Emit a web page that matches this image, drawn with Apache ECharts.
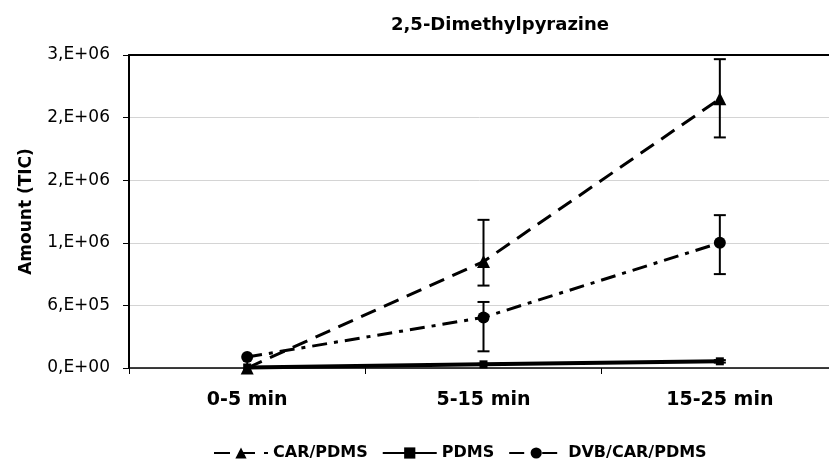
<!DOCTYPE html>
<html>
<head>
<meta charset="utf-8">
<script src="https://cdn.jsdelivr.net/npm/echarts@6/dist/echarts.min.js"></script>
<style>
  html, body { margin: 0; padding: 0; background: #fff; }
  #graph { width: 829px; height: 466px; }
</style>
</head>
<body>
<div id="graph"></div>
<script>
// categories and values
var categories = ['0-5 min', '5-15 min', '15-25 min'];

var carPdms = [0, 1.02e6, 2.58e6];
var carPdmsLow = [0, 0.79e6, 2.21e6];
var carPdmsHigh = [0, 1.42e6, 2.96e6];

var pdms = [0.005e6, 0.035e6, 0.064e6];
var pdmsLow = [0.005e6, 0.03e6, 0.052e6];
var pdmsHigh = [0.005e6, 0.04e6, 0.076e6];

var dvbCarPdms = [0.105e6, 0.485e6, 1.2e6];
var dvbCarPdmsLow = [0.105e6, 0.16e6, 0.9e6];
var dvbCarPdmsHigh = [0.105e6, 0.633e6, 1.465e6];

var FONT = '"DejaVu Sans", "Liberation Sans", sans-serif';

function sciLabel(v) {
    // excel style "0,E+00"
    var s = Number(v).toExponential(0).split('e');
    var exp = parseInt(s[1], 10);
    var sign = exp < 0 ? '-' : '+';
    exp = Math.abs(exp);
    return s[0] + ',E' + sign + (exp < 10 ? '0' + exp : exp);
}

function errData(low, high) {
    var out = [];
    for (var i = 0; i < low.length; i++) {
        if (high[i] - low[i] > 0) out.push([i, low[i], high[i]]);
    }
    return out;
}

function errorBars(name, low, high) {
    return {
        type: 'custom',
        name: name + ' err',
        z: 3,
        silent: true,
        renderItem: function (params, api) {
            var lo = api.coord([api.value(0), api.value(1)]);
            var hi = api.coord([api.value(0), api.value(2)]);
            var half = 6;
            var st = { stroke: '#000', lineWidth: 2 };
            return {
                type: 'group',
                children: [
                    { type: 'line', shape: { x1: hi[0], y1: hi[1], x2: lo[0], y2: lo[1] }, style: st },
                    { type: 'line', shape: { x1: hi[0] - half, y1: hi[1], x2: hi[0] + half, y2: hi[1] }, style: st },
                    { type: 'line', shape: { x1: lo[0] - half, y1: lo[1], x2: lo[0] + half, y2: lo[1] }, style: st }
                ]
            };
        },
        encode: { x: 0, y: [1, 2] },
        data: errData(low, high)
    };
}

var myChart = echarts.init(document.getElementById('graph'));

var option = {
    animation: false,
    textStyle: { fontFamily: FONT },
    title: {
        text: '2,5-Dimethylpyrazine',
        left: 386,
        top: 11,
        textStyle: { fontFamily: FONT, fontSize: 18, fontWeight: 'bold', color: '#000' }
    },
    legend: {
        data: ['CAR/PDMS', 'PDMS', 'DVB/CAR/PDMS'],
        left: 208,
        bottom: 0,
        itemWidth: 54,
        itemHeight: 14,
        itemGap: 14,
        textStyle: { fontFamily: FONT, fontSize: 16, fontWeight: 'bold', color: '#000' }
    },
    grid: { left: 129, top: 55, width: 709, height: 313, outerBoundsMode: 'none' },
    xAxis: [{
        type: 'category',
        data: categories,
        boundaryGap: true,
        axisLine: { lineStyle: { color: '#000', width: 1.5 } },
        axisTick: { show: true, length: 6, lineStyle: { color: '#000' } },
        axisLabel: { margin: 23, fontFamily: FONT, fontSize: 19, fontWeight: 'bold', color: '#000' }
    }, {
        type: 'category',
        data: categories,
        position: 'top',
        axisLine: { lineStyle: { color: '#000', width: 2 } },
        axisTick: { show: false },
        axisLabel: { show: false }
    }],
    yAxis: {
        type: 'value',
        min: 0,
        max: 3e6,
        interval: 6e5,
        name: 'Amount (TIC)',
        nameLocation: 'middle',
        nameGap: 94,
        nameTextStyle: { fontFamily: FONT, fontSize: 17, fontWeight: 'bold', color: '#000' },
        axisLine: { show: true, lineStyle: { color: '#000', width: 2 } },
        axisTick: { show: true, length: 6, lineStyle: { color: '#000' } },
        axisLabel: { margin: 19, fontFamily: FONT, fontSize: 17, color: '#000', formatter: sciLabel },
        splitLine: { show: true, lineStyle: { color: '#d4d4d4', width: 1 } }
    },
    series: [
        errorBars('CAR/PDMS', carPdmsLow, carPdmsHigh),
        errorBars('PDMS', pdmsLow, pdmsHigh),
        errorBars('DVB/CAR/PDMS', dvbCarPdmsLow, dvbCarPdmsHigh),
        {
            name: 'CAR/PDMS',
            type: 'line',
            z: 4,
            data: carPdms,
            symbol: 'triangle',
            symbolSize: 13,
            itemStyle: { color: '#000' },
            lineStyle: { color: '#000', width: 3, type: [16, 9] }
        },
        {
            name: 'PDMS',
            type: 'line',
            z: 4,
            data: pdms,
            symbol: 'rect',
            symbolSize: 8,
            itemStyle: { color: '#000' },
            lineStyle: { color: '#000', width: 4, type: 'solid' }
        },
        {
            name: 'DVB/CAR/PDMS',
            type: 'line',
            z: 4,
            data: dvbCarPdms,
            symbol: 'circle',
            symbolSize: 12,
            itemStyle: { color: '#000' },
            lineStyle: { color: '#000', width: 3, type: [15, 7, 4, 7] }
        }
    ]
};

myChart.setOption(option);
</script>
</body>
</html>
